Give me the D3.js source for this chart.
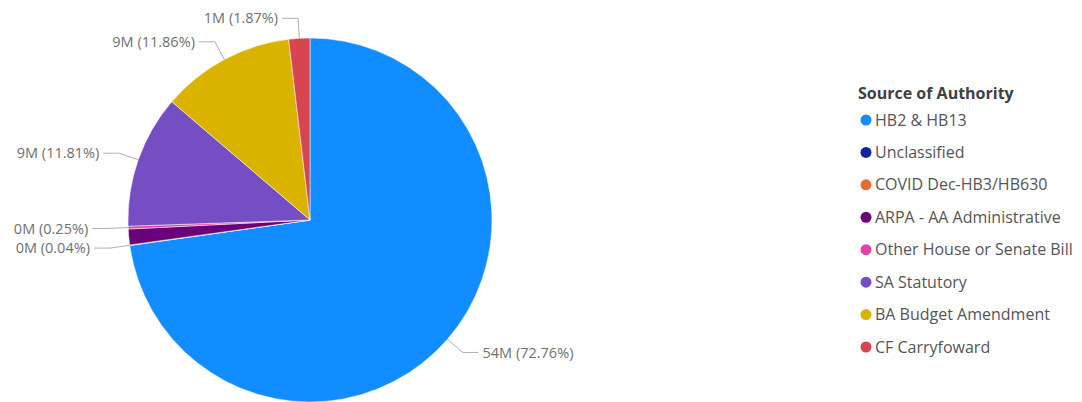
<!DOCTYPE html>
<html>
<head>
<meta charset="utf-8">
<script src="https://cdn.jsdelivr.net/npm/d3@7"></script>
<style>
  body { margin: 0; background: #fff; }
  svg { display: block; font-family: "Segoe UI", "Open Sans", sans-serif; }
</style>
</head>
<body>
<svg id="chart" width="1082" height="402"></svg>
<script>
// Source of Authority, amounts in millions
const categories = ['HB2 & HB13', 'Unclassified', 'COVID Dec-HB3/HB630', 'ARPA - AA Administrative',
  'Other House or Senate Bill', 'SA Statutory', 'BA Budget Amendment', 'CF Carryfoward'];
const amounts = [54.00, 0.0297, 0.0074, 1.039, 0.1856, 8.765, 8.802, 1.388];
const colors = ['#118DFF', '#12239E', '#E66C37', '#6B007B', '#E044A7', '#744EC2', '#D9B300', '#D64550'];
// slices whose data label is displayed
const shownLabels = ['HB2 & HB13', 'Unclassified', 'Other House or Senate Bill', 'SA Statutory',
  'BA Budget Amendment', 'CF Carryfoward'];
const legendTitle = 'Source of Authority';

const width = 1082;
const height = 402;
const cx = 310, cy = 220, radius = 182;

const data = categories.map((c, i) => ({ name: c, value: amounts[i], color: colors[i] }));
const total = d3.sum(amounts);

const svg = d3.select('#chart');
const g = svg.append('g').attr('transform', `translate(${cx},${cy})`);

const pie = d3.pie().sort(null).value((d) => d.value);
const arcs = pie(data);
const arc = d3.arc().innerRadius(0).outerRadius(radius);

g.selectAll('path.slice')
  .data(arcs)
  .join('path')
  .attr('class', 'slice')
  .attr('d', arc)
  .attr('fill', (d) => d.data.color)
  .attr('stroke', '#fff')
  .attr('stroke-width', 0.5);

// data labels with leader lines
const fmt = (d) => `${Math.round(d.data.value)}M (${(d.data.value / total * 100).toFixed(2)}%)`;
const labelled = arcs.filter((d) => shownLabels.includes(d.data.name));
const elbowR = radius + 20;
const tail = 16;

labelled.forEach((d) => {
  const a = (d.startAngle + d.endAngle) / 2;
  const p0 = [Math.sin(a) * radius, -Math.cos(a) * radius];
  const p1 = [Math.sin(a) * elbowR, -Math.cos(a) * elbowR];
  const right = Math.sin(a) > 0;
  const p2 = [p1[0] + (right ? tail : -tail), p1[1]];
  g.append('polyline')
    .attr('points', [p0, p1, p2].map((p) => p.join(',')).join(' '))
    .attr('fill', 'none')
    .attr('stroke', '#b0b0b0')
    .attr('stroke-width', 1);
  g.append('text')
    .attr('x', p2[0] + (right ? 4 : -4))
    .attr('y', p2[1])
    .attr('dy', '0.35em')
    .attr('text-anchor', right ? 'start' : 'end')
    .attr('font-size', 14.5)
    .attr('fill', '#6f6f6f')
    .text(fmt(d));
});

// legend
const legend = svg.append('g').attr('transform', 'translate(858,93)');
legend.append('text')
  .attr('x', 0)
  .attr('y', 0)
  .attr('dy', '0.35em')
  .attr('font-size', 16)
  .attr('font-weight', 'bold')
  .attr('fill', '#404040')
  .text(legendTitle);

const legendY = d3.scalePoint().domain(categories).range([27, 254]);
const items = legend.selectAll('g.item')
  .data(data)
  .join('g')
  .attr('class', 'item')
  .attr('transform', (d) => `translate(0,${legendY(d.name)})`);
items.append('circle')
  .attr('cx', 8)
  .attr('cy', 0)
  .attr('r', 5.5)
  .attr('fill', (d) => d.color);
items.append('text')
  .attr('x', 17)
  .attr('y', 0)
  .attr('dy', '0.35em')
  .attr('font-size', 16)
  .attr('fill', '#555')
  .text((d) => d.name);
</script>
</body>
</html>
